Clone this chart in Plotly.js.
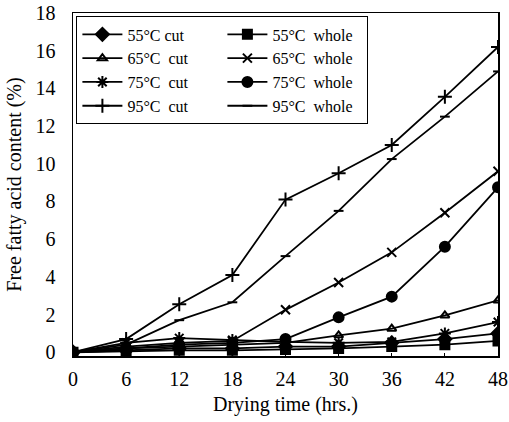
<!DOCTYPE html>
<html>
<head>
<meta charset="utf-8">
<script src="https://cdn.plot.ly/plotly-3.0.1.min.js"></script>
<style>html,body{margin:0;padding:0;background:#fff;}#chart{width:509px;height:422px;}</style>
</head>
<body>
<div id="chart"></div>
<script>
var hours = [0, 6, 12, 18, 24, 30, 36, 42, 48];
var seriesNames = ["55°C cut", "55°C  whole", "65°C  cut", "65°C  whole", "75°C  cut", "75°C  whole", "95°C  cut", "95°C  whole"];
var cut55   = [0, 0.1, 0.2, 0.2, 0.3, 0.3, 0.5, 0.7, 1.0];
var whole55 = [0, 0.05, 0.1, 0.1, 0.15, 0.2, 0.3, 0.4, 0.6];
var cut65   = [0, 0.2, 0.3, 0.4, 0.5, 0.9, 1.25, 1.95, 2.75];
var whole65 = [0, 0.3, 0.5, 0.6, 2.25, 3.7, 5.3, 7.4, 9.6];
var cut75   = [0, 0.5, 0.75, 0.65, 0.55, 0.5, 0.55, 1.0, 1.6];
var whole75 = [0, 0.2, 0.4, 0.5, 0.7, 1.85, 2.95, 5.6, 8.75];
var cut95   = [0, 0.7, 2.55, 4.1, 8.1, 9.5, 11.0, 13.55, 16.2];
var whole95 = [0, 0.4, 1.7, 2.65, 5.1, 7.5, 10.25, 12.5, 14.9];
var values = [cut55, whole55, cut65, whole65, cut75, whole75, cut95, whole95];
var symbols = ["diamond", "square", "triangle-up-open", "x-thin-open", "asterisk-open", "circle", "cross-thin-open", "line-ew-open"];
var sizes = [10, 9, 8, 9, 10, 10, 10, 7];

var traces = values.map(function (v, i) {
  return {
    x: hours, y: v, name: seriesNames[i], type: "scatter", mode: "lines+markers",
    line: {color: "#000", width: 1.8},
    marker: {symbol: symbols[i], size: sizes[i], color: "#000", line: {color: "#000", width: 2}}
  };
});

var layout = {
  width: 509, height: 422,
  margin: {l: 73, r: 11, t: 13, b: 66},
  paper_bgcolor: "#fff", plot_bgcolor: "#fff",
  font: {family: "Liberation Serif, Times New Roman, serif", color: "#000", size: 20},
  showlegend: true,
  legend: {
    orientation: "h", x: 0.008, y: 0.99, xanchor: "left", yanchor: "top",
    bordercolor: "#000", borderwidth: 1, bgcolor: "#fff",
    font: {size: 16}, itemwidth: 40, entrywidth: 90, tracegroupgap: 0
  },
  xaxis: {
    range: [0, 48], tickvals: hours, ticktext: hours.map(String),
    showline: true, mirror: true, linecolor: "#000", linewidth: 1.5,
    ticks: "inside", ticklen: 3, tickcolor: "#000", showgrid: false, zeroline: false,
    tickfont: {size: 20}, ticklabelstandoff: 4,
    title: {text: "Drying time (hrs.)", font: {size: 20}, standoff: 8}
  },
  yaxis: {
    range: [-0.2, 18], tickvals: [0, 2, 4, 6, 8, 10, 12, 14, 16, 18],
    showline: true, mirror: true, linecolor: "#000", linewidth: 1.5,
    ticks: "", showgrid: false, zeroline: false,
    tickfont: {size: 20}, ticklabelstandoff: 12,
    title: {text: "Free fatty acid content (%)", font: {size: 20}, standoff: 8}
  }
};
Plotly.newPlot("chart", traces, layout, {displayModeBar: false, staticPlot: true});
</script>
</body>
</html>
